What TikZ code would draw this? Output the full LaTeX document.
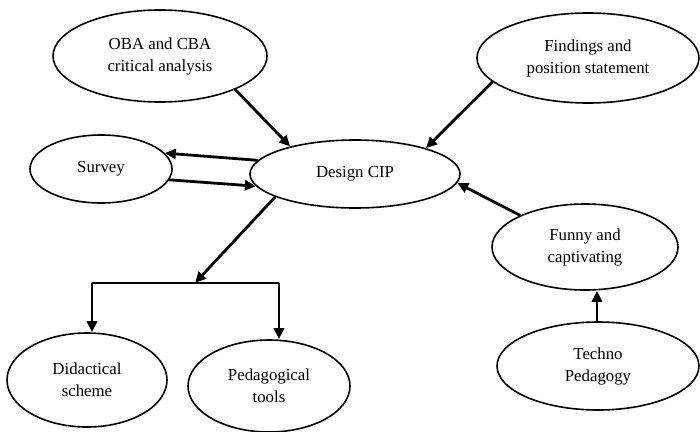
\documentclass[tikz,border=0pt]{standalone}
\usepackage{fontspec}
\setmainfont{Liberation Serif}
\usetikzlibrary{shapes.geometric,arrows.meta}
\begin{document}
\begin{tikzpicture}[x=1pt,y=-1pt,
  bub/.style={ellipse,draw,line width=1.6pt,inner sep=0pt,align=center,
    font=\fontsize{16.8}{22}\selectfont},
  arr/.style={line width=2.8pt,-{Triangle[length=11pt,width=10pt]}},
  bar/.style={line width=2.8pt}]
\useasboundingbox (0,0) rectangle (700,431);
\node[bub,minimum width=214pt,minimum height=92pt] (oba) at (160,56) {OBA and CBA\\critical analysis};
\node[bub,minimum width=222pt,minimum height=90pt] (fin) at (588,58) {Findings and\\position statement};
\node[bub,minimum width=142pt,minimum height=68pt] (sur) at (101,169) {Survey};
\node[bub,minimum width=210pt,minimum height=68pt] (cip) at (355,174) {Design CIP};
\node[bub,minimum width=186pt,minimum height=86pt] (fun) at (585,247) {Funny and\\captivating};
\node[bub,minimum width=202pt,minimum height=88pt] (tec) at (598,366) {Techno\\Pedagogy};
\node[bub,minimum width=160pt,minimum height=94pt] (did) at (87,380) {Didactical\\scheme};
\node[bub,minimum width=162pt,minimum height=92pt] (ped) at (269,386) {Pedagogical\\tools};
\coordinate (j) at (195,283);
\coordinate (jl) at (92,283);
\coordinate (jr) at (279,283);
\draw[arr] (oba.-24) -- (cip.157);
\draw[arr] (fin.-166) -- (cip.20);
\draw[arr] (cip.172) -- (sur.14);
\draw[arr] (sur.-9) -- (cip.-173);
\draw[arr] (fun.154) -- (cip.-5);
\draw[arr] (tec.north -| 597,0) -- (597,0 |- fun.south);
\draw[arr] (cip.-164) -- (j);
\draw[bar] (jl) -- (jr);
\draw[arr] (jl) -- (jl |- did.north);
\draw[arr] (jr) -- (jr |- ped.north);
\end{tikzpicture}
\end{document}
